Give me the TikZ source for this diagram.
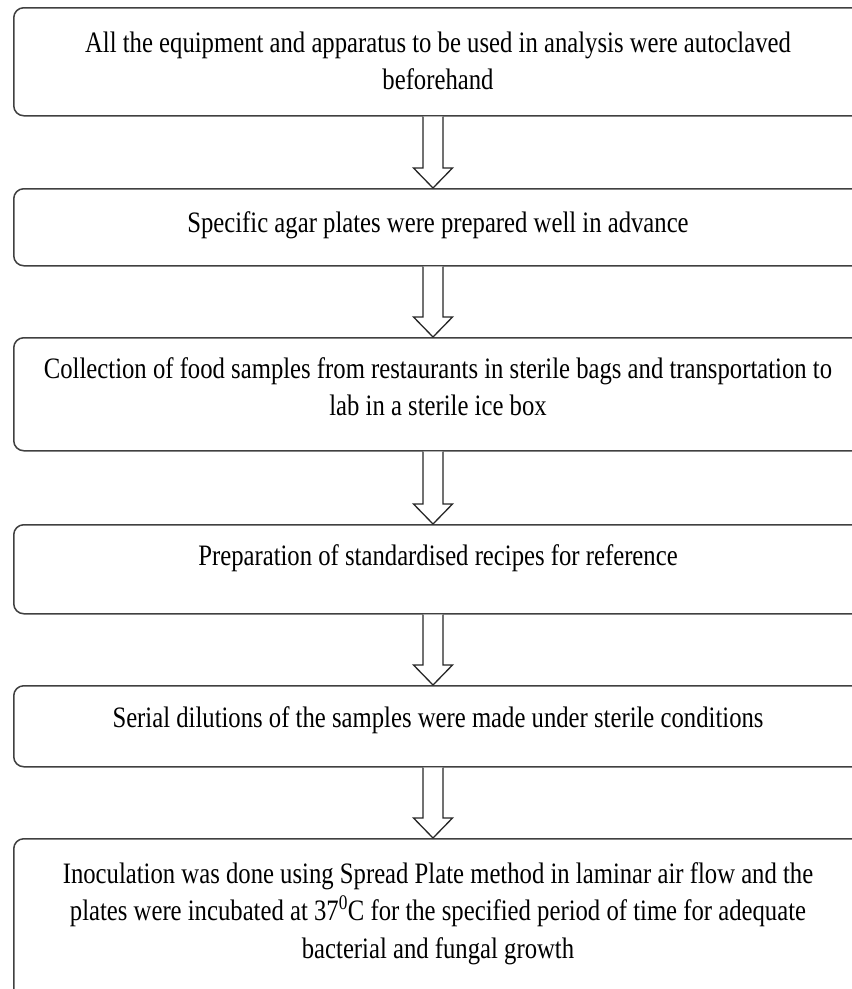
\documentclass[tikz,border=0pt]{standalone}
\usepackage{fontspec}
\setmainfont{Liberation Serif}
\usepackage{graphicx}
\usetikzlibrary{calc}
\newcommand{\txtblock}[1]{\scalebox{1}[1.2]{\begin{tabular}{@{}c@{}}#1\end{tabular}}}
\newcommand{\blockarrow}[2]{%
  \draw[blk] ($(#1.south -| ax)+(-10,0)$) -- ($(#2.north -| ax)+(-10,-20)$)
    -- ($(#2.north -| ax)+(-19.5,-20)$) -- (#2.north -| ax)
    -- ($(#2.north -| ax)+(19.5,-20)$) -- ($(#2.north -| ax)+(10,-20)$)
    -- ($(#1.south -| ax)+(10,0)$);}
\begin{document}
\begin{tikzpicture}[x=1pt,y=-1pt,
  box/.style={draw=black!75, line width=1.5pt, rounded corners=10pt, inner sep=0pt,
              minimum width=850pt, anchor=north west},
  lbl/.style={anchor=north, inner sep=0pt, font=\fontsize{24.7}{31.25}\selectfont},
  blk/.style={draw=black!85, line width=1.3pt, fill=white, line join=miter}]
\useasboundingbox (0,0) rectangle (852,989);
\clip (0,0) rectangle (852,989);
\coordinate (ax) at (433,0);
\node[box, minimum height=108pt] (b1) at (13,7) {};
\node[box, minimum height=77pt]  (b2) at (13,188) {};
\node[box, minimum height=113pt] (b3) at (13,337) {};
\node[box, minimum height=89pt]  (b4) at (13,524) {};
\node[box, minimum height=81pt]  (b5) at (13,685) {};
\node[box, minimum height=160pt] (b6) at (13,838) {};
\node[lbl] (t1) at (438,25.75) {\txtblock{All the equipment and apparatus to be used in analysis were autoclaved\\beforehand}};
\node[lbl] (t2) at (438,205.75) {\txtblock{Specific agar plates were prepared well in advance}};
\node[lbl] (t3) at (438,351.75) {\txtblock{Collection of food samples from restaurants in sterile bags and transportation to\\lab in a sterile ice box}};
\node[lbl] (t4) at (438,538.75) {\txtblock{Preparation of standardised recipes for reference}};
\node[lbl] (t5) at (438,700.75) {\txtblock{Serial dilutions of the samples were made under sterile conditions}};
\node[lbl] (t6) at (438,856.75) {\txtblock{Inoculation was done using Spread Plate method in laminar air flow and the\\plates were incubated at 37\textsuperscript{0}C for the specified period of time for adequate\\bacterial and fungal growth}};
\blockarrow{b1}{b2}
\blockarrow{b2}{b3}
\blockarrow{b3}{b4}
\blockarrow{b4}{b5}
\blockarrow{b5}{b6}
\end{tikzpicture}
\end{document}
